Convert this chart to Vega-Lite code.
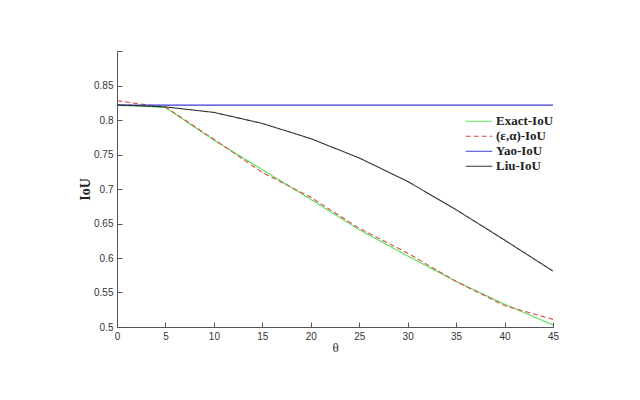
{
  "$schema": "https://vega.github.io/schema/vega-lite/v6.json",
  "width": 436,
  "height": 276,
  "autosize": {"type": "none"},
  "padding": {"left": 117, "top": 51, "right": 87, "bottom": 73},
  "background": "white",
  "config": {"view": {"stroke": null}},
  "data": {
    "values": [
      {"t": 0, "v": 0.821, "s": "Exact-IoU"},
      {"t": 2.5, "v": 0.820, "s": "Exact-IoU"},
      {"t": 5, "v": 0.818, "s": "Exact-IoU"},
      {"t": 10, "v": 0.771, "s": "Exact-IoU"},
      {"t": 15, "v": 0.728, "s": "Exact-IoU"},
      {"t": 20, "v": 0.685, "s": "Exact-IoU"},
      {"t": 25, "v": 0.641, "s": "Exact-IoU"},
      {"t": 30, "v": 0.603, "s": "Exact-IoU"},
      {"t": 35, "v": 0.566, "s": "Exact-IoU"},
      {"t": 40, "v": 0.533, "s": "Exact-IoU"},
      {"t": 45, "v": 0.503, "s": "Exact-IoU"},
      {"t": 0, "v": 0.828, "s": "(ε,α)-IoU"},
      {"t": 2.5, "v": 0.823, "s": "(ε,α)-IoU"},
      {"t": 5, "v": 0.819, "s": "(ε,α)-IoU"},
      {"t": 10, "v": 0.772, "s": "(ε,α)-IoU"},
      {"t": 15, "v": 0.724, "s": "(ε,α)-IoU"},
      {"t": 20, "v": 0.688, "s": "(ε,α)-IoU"},
      {"t": 25, "v": 0.643, "s": "(ε,α)-IoU"},
      {"t": 30, "v": 0.607, "s": "(ε,α)-IoU"},
      {"t": 35, "v": 0.566, "s": "(ε,α)-IoU"},
      {"t": 40, "v": 0.531, "s": "(ε,α)-IoU"},
      {"t": 45, "v": 0.511, "s": "(ε,α)-IoU"},
      {"t": 0, "v": 0.8215, "s": "Yao-IoU"},
      {"t": 45, "v": 0.8215, "s": "Yao-IoU"},
      {"t": 0, "v": 0.822, "s": "Liu-IoU"},
      {"t": 5, "v": 0.819, "s": "Liu-IoU"},
      {"t": 10, "v": 0.811, "s": "Liu-IoU"},
      {"t": 15, "v": 0.795, "s": "Liu-IoU"},
      {"t": 20, "v": 0.773, "s": "Liu-IoU"},
      {"t": 25, "v": 0.745, "s": "Liu-IoU"},
      {"t": 30, "v": 0.711, "s": "Liu-IoU"},
      {"t": 35, "v": 0.670, "s": "Liu-IoU"},
      {"t": 40, "v": 0.626, "s": "Liu-IoU"},
      {"t": 45, "v": 0.581, "s": "Liu-IoU"}
    ]
  },
  "mark": {"type": "line", "strokeWidth": 1.1, "clip": true},
  "encoding": {
    "x": {
      "field": "t",
      "type": "quantitative",
      "scale": {"domain": [0, 45], "nice": false, "zero": false},
      "axis": {
        "values": [0, 5, 10, 15, 20, 25, 30, 35, 40, 45],
        "title": "θ",
        "titleFont": "Liberation Serif",
        "titleFontSize": 13,
        "titleFontWeight": "normal",
        "titleColor": "#333",
        "titlePadding": 0,
        "grid": false,
        "domainColor": "#555",
        "tickColor": "#555",
        "tickSize": -5,
        "tickWidth": 1,
        "labelPadding": 9,
        "labelFont": "Liberation Sans",
        "labelFontSize": 10,
        "labelColor": "#333",
        "labelFlush": false
      }
    },
    "y": {
      "field": "v",
      "type": "quantitative",
      "scale": {"domain": [0.5, 0.9], "nice": false, "zero": false},
      "axis": {
        "values": [0.5, 0.55, 0.6, 0.65, 0.7, 0.75, 0.8, 0.85, 0.9],
        "labelExpr": "datum.value > 0.89 ? '' : format(datum.value, '.2~f')",
        "title": "IoU",
        "titleFont": "Liberation Serif",
        "titleFontSize": 14,
        "titleFontWeight": "bold",
        "titleColor": "#222",
        "titleX": -25,
        "grid": false,
        "domainColor": "#555",
        "tickColor": "#555",
        "tickSize": -5,
        "tickWidth": 1,
        "labelPadding": 9,
        "labelFont": "Liberation Sans",
        "labelFontSize": 10,
        "labelColor": "#333",
        "labelFlush": false
      }
    },
    "color": {
      "field": "s",
      "type": "nominal",
      "scale": {
        "domain": ["Exact-IoU", "(ε,α)-IoU", "Yao-IoU", "Liu-IoU"],
        "range": ["#55e055", "#dd4a4a", "#3a3ad8", "#303030"]
      },
      "legend": {
        "title": null,
        "orient": "none",
        "legendX": 348,
        "legendY": 63,
        "symbolType": "stroke",
        "symbolSize": 700,
        "clipHeight": 14.5,
        "symbolStrokeWidth": 1.2,
        "labelFont": "Liberation Serif",
        "labelFontSize": 13,
        "labelFontWeight": "bold",
        "labelColor": "#222",
        "rowPadding": 0,
        "labelOffset": 3
      }
    },
    "strokeDash": {
      "field": "s",
      "type": "nominal",
      "scale": {
        "domain": ["Exact-IoU", "(ε,α)-IoU", "Yao-IoU", "Liu-IoU"],
        "range": [[1, 0], [5, 3], [1, 0], [1, 0]]
      },
      "legend": {
        "title": null,
        "orient": "none",
        "legendX": 348,
        "legendY": 63,
        "symbolType": "stroke",
        "symbolSize": 700,
        "clipHeight": 14.5,
        "symbolStrokeWidth": 1.2,
        "labelFont": "Liberation Serif",
        "labelFontSize": 13,
        "labelFontWeight": "bold",
        "labelColor": "#222",
        "rowPadding": 0,
        "labelOffset": 3
      }
    }
  }
}
